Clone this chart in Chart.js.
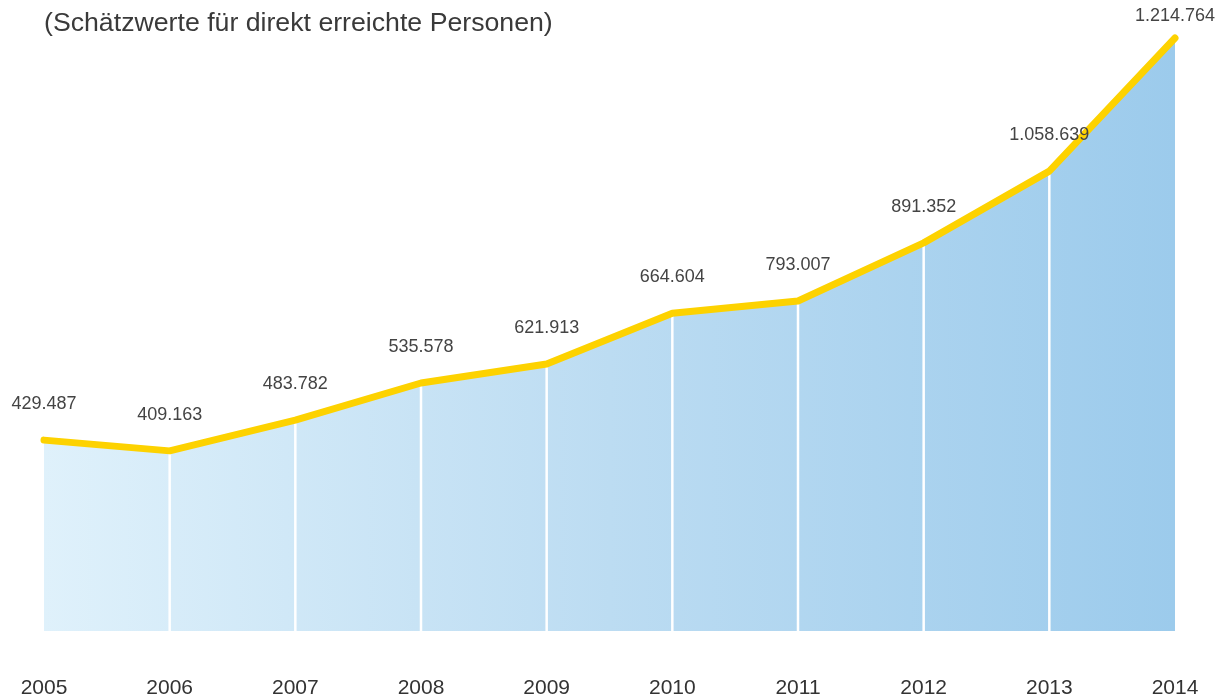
<!DOCTYPE html>
<html>
<head>
<meta charset="utf-8">
<script src="https://cdn.jsdelivr.net/npm/chart.js@4/dist/chart.umd.min.js"></script>
<style>
    html, body { margin: 0; padding: 0; background: #fff; overflow: hidden; }
    #wrap { position: relative; width: 1223px; height: 696px; }
    #subtitle {
        position: absolute; left: 44px; top: 7px;
        font-family: "Liberation Sans", Arial, sans-serif;
        font-size: 26.7px; color: #3a3a3a; white-space: nowrap;
    }
</style>
</head>
<body>
<div id="wrap">
    <canvas id="reachChart" width="1223" height="696"></canvas>
    <div id="subtitle">(Schätzwerte für direkt erreichte Personen)</div>
</div>
<script>
const years = ['2005', '2006', '2007', '2008', '2009', '2010', '2011', '2012', '2013', '2014'];
// printed figures above each point
const reachLabels = ['429.487', '409.163', '483.782', '535.578', '621.913', '664.604', '793.007', '891.352', '1.058.639', '1.214.764'];
// heights of the drawn line (persons)
const reachPlotted = [391000, 369000, 432000, 508000, 547000, 651000, 676000, 795000, 942000, 1214764];

const lineColor = '#fdd200';

// white separators from the line down to the baseline
const separators = {
    id: 'separators',
    afterDatasetDraw(chart, args) {
        if (args.index !== 1) return;
        const ctx = chart.ctx;
        const bottom = chart.scales.y.getPixelForValue(0);
        const pts = chart.getDatasetMeta(1).data;
        ctx.save();
        ctx.strokeStyle = '#ffffff';
        ctx.lineWidth = 2.5;
        for (let i = 1; i < pts.length - 1; i++) {
            ctx.beginPath();
            ctx.moveTo(pts[i].x, pts[i].y);
            ctx.lineTo(pts[i].x, bottom);
            ctx.stroke();
        }
        ctx.restore();
    }
};

// value labels above each point
const valueLabels = {
    id: 'valueLabels',
    afterDatasetsDraw(chart) {
        const ctx = chart.ctx;
        const pts = chart.getDatasetMeta(0).data;
        ctx.save();
        ctx.font = '18px "Liberation Sans", Arial, sans-serif';
        ctx.fillStyle = '#444444';
        ctx.textAlign = 'center';
        ctx.textBaseline = 'middle';
        pts.forEach((p, i) => {
            const y = Math.max(p.y - 36, 16);
            ctx.fillText(reachLabels[i], p.x, y);
        });
        ctx.restore();
    }
};

const ctx = document.getElementById('reachChart').getContext('2d');
new Chart(ctx, {
    type: 'line',
    data: {
        labels: years,
        datasets: [{
            label: 'Reichweite',
            data: reachPlotted,
            borderColor: lineColor,
            borderWidth: 7,
            borderCapStyle: 'round',
            borderJoinStyle: 'round',
            pointRadius: 0,
            fill: false,
            tension: 0,
            clip: false,
            order: 0
        }, {
            label: 'Fläche',
            data: reachPlotted,
            borderWidth: 0,
            pointRadius: 0,
            fill: 'origin',
            tension: 0,
            order: 1,
            backgroundColor: function (context) {
                const area = context.chart.chartArea;
                if (!area) return '#c4e1f4';
                const g = context.chart.ctx.createLinearGradient(area.left, 0, area.right, 0);
                g.addColorStop(0, '#dff1fb');
                g.addColorStop(0.5, '#bcdcf2');
                g.addColorStop(1, '#9ccbec');
                return g;
            }
        }]
    },
    options: {
        responsive: false,
        animation: false,
        layout: {
            padding: { left: 44, right: 48, top: 38, bottom: -50 }
        },
        plugins: {
            legend: { display: false },
            tooltip: { enabled: false },
            title: { display: false }
        },
        scales: {
            x: {
                offset: false,
                grid: { display: false, drawTicks: false },
                border: { display: false },
                afterFit: function (scale) {
                    scale.paddingLeft = 0;
                    scale.paddingRight = 0;
                },
                ticks: {
                    padding: 47,
                    color: '#333333',
                    maxRotation: 0,
                    autoSkip: false,
                    font: { family: '"Liberation Sans", Arial, sans-serif', size: 21, lineHeight: 1 }
                }
            },
            y: {
                display: false,
                min: 0,
                max: reachPlotted[reachPlotted.length - 1]
            }
        }
    },
    plugins: [separators, valueLabels]
});
</script>
</body>
</html>
